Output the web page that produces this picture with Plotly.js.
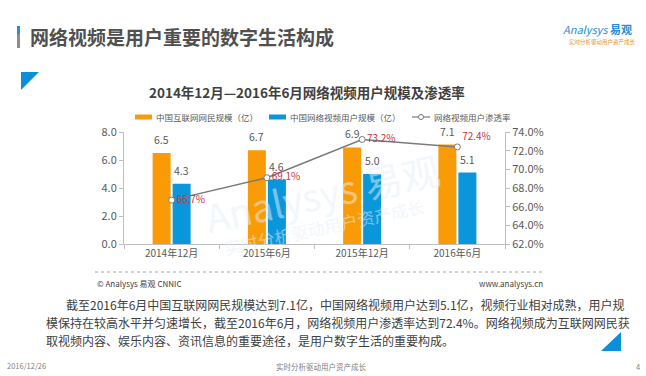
<!DOCTYPE html>
<html>
<head>
<meta charset="utf-8">
<script src="https://cdn.plot.ly/plotly-3.0.1.min.js"></script>
<style>
html,body{margin:0;padding:0;background:#fff;}
#chart{width:646px;height:376px;}
</style>
</head>
<body>
<div id="chart"></div>
<script>
// ---- data ----
const categories = ["2014年12月", "2015年6月", "2015年12月", "2016年6月"];
const internetUsers = [6.5, 6.7, 6.9, 7.1];          // 亿
const videoUsers = [4.3, 4.6, 5.0, 5.1];             // 亿
const penetration = [66.7, 69.1, 73.2, 72.4];        // %
const seriesNames = ["中国互联网网民规模（亿）", "中国网络视频用户规模（亿）", "网络视频用户渗透率"];
const leftTicks = [0, 2, 4, 6, 8];
const rightTicks = [62, 64, 66, 68, 70, 72, 74];
const pageTitle = "网络视频是用户重要的数字生活构成";
const chartTitle = "2014年12月—2016年6月网络视频用户规模及渗透率";
const sourceText = "© Analysys 易观 CNNIC";
const siteText = "www.analysys.cn";
const paragraph = [
  "截至2016年6月中国互联网网民规模达到7.1亿，中国网络视频用户达到5.1亿，视频行业相对成熟，用户规",
  "模保持在较高水平并匀速增长，截至2016年6月，网络视频用户渗透率达到72.4%。网络视频成为互联网网民获",
  "取视频内容、娱乐内容、资讯信息的重要途径，是用户数字生活的重要构成。"
];
const footerDate = "2016/12/26";
const footerSlogan = "实时分析驱动用户资产成长";
const pageNumber = "4";

// ---- layout helpers (pixel -> paper) ----
const W = 646, H = 376;
const L = 124, R = 505, T = 132, B = 244;
const px = x => (x - L) / (R - L);
const py = y => (B - y) / (B - T);

const FONT = '"Noto Sans CJK SC", "Noto Sans", sans-serif';
const gray = "#595959";
const orange = "#F99B07";
const blue = "#0A96DA";
const lineGray = "#7A7A7A";

const traces = [
  {
    type: "bar", name: seriesNames[0], x: categories, y: internetUsers,
    marker: {color: orange}, hoverinfo: "none"
  },
  {
    type: "bar", name: seriesNames[1], x: categories, y: videoUsers,
    marker: {color: blue}, hoverinfo: "none"
  },
  {
    type: "scatter", mode: "lines+markers+text", name: seriesNames[2],
    x: categories, y: penetration, yaxis: "y2",
    line: {color: lineGray, width: 1.5},
    marker: {color: "#FFFFFF", size: 6, line: {color: lineGray, width: 1}},
    text: penetration.map(v => v.toFixed(1) + "%"),
    textposition: ["middle right", "middle right", "middle right", "top right"],
    textfont: {color: "#C8323C", size: 10, family: FONT}, cliponaxis: false,
    hoverinfo: "none"
  }
];

const ann = [];
function addText(text, x, y, opts) {
  ann.push(Object.assign({
    text: text, xref: "paper", yref: "paper", x: px(x), y: py(y),
    showarrow: false, xanchor: "left", yanchor: "middle",
    font: {family: FONT, size: 12, color: gray}
  }, opts || {}));
}

// bar value labels, placed on the data scale above each bar
const barHalfOffset = 10;  // px: each bar's centre sits this far from the category centre
[[internetUsers, -barHalfOffset], [videoUsers, barHalfOffset]].forEach(([vals, dx]) => {
  vals.forEach((v, i) => {
    ann.push({text: v.toFixed(1), xref: "x", yref: "y", x: categories[i], y: v,
      xshift: dx, yshift: 5, yanchor: "bottom", xanchor: "center", showarrow: false,
      borderpad: 0, font: {family: FONT, size: 10.5, color: gray}});
  });
});

// faint watermark
addText("Analysys 易观", 322, 192, {xanchor: "center", textangle: -12,
  font: {family: FONT, size: 38, color: "#E6F0F8"}, opacity: 0.5});
addText(footerSlogan, 324, 226, {xanchor: "center", textangle: -12,
  font: {family: FONT, size: 17, color: "#E6F0F8"}, opacity: 0.5});

addText(pageTitle, 28, 37, {font: {family: FONT, size: 19, color: "#505050", weight: "bold"}});
addText("<i>Analysys</i> <b>易观</b>", 634, 29, {xanchor: "right", font: {family: FONT, size: 11, color: "#1F8FD0"}});
addText(footerSlogan, 638, 42, {xanchor: "right", font: {family: FONT, size: 5.5, color: "#E8912A"}});
addText(chartTitle, 307, 92, {xanchor: "center", font: {family: FONT, size: 13.5, color: "#404040", weight: "bold"}});

// custom single-row legend
const legendItems = [
  {x: 135, kind: "bar", color: orange, name: seriesNames[0]},
  {x: 269, kind: "bar", color: blue, name: seriesNames[1]},
  {x: 412, kind: "line", color: lineGray, name: seriesNames[2]}
];
const legendY = 117;

addText(sourceText, 95, 283, {font: {family: FONT, size: 8, color: "#404040"}});
addText(siteText, 545, 283, {xanchor: "right", font: {family: FONT, size: 8, color: "#404040"}});
addText(paragraph[0], 64, 304, {font: {family: FONT, size: 12, color: "#404040"}});
addText(paragraph[1], 44, 322, {font: {family: FONT, size: 12, color: "#404040"}});
addText(paragraph[2], 44, 340, {font: {family: FONT, size: 12, color: "#404040"}});
addText(footerDate, 5, 365, {font: {family: FONT, size: 7.5, color: "#7F7F7F"}});
addText(footerSlogan, 321, 366, {xanchor: "center", font: {family: FONT, size: 7.5, color: "#7F7F7F"}});
addText(pageNumber, 642, 366, {xanchor: "right", font: {family: FONT, size: 7.5, color: "#7F7F7F"}});

const shapes = [
  {type: "rect", xref: "paper", yref: "paper", x0: px(17), x1: px(20), y0: py(26), y1: py(34), fillcolor: "#2A8FD0", line: {width: 0}},
  {type: "rect", xref: "paper", yref: "paper", x0: px(17), x1: px(20), y0: py(34), y1: py(48), fillcolor: "#8C8C8C", line: {width: 0}},
  {type: "path", xref: "paper", yref: "paper",
   path: `M ${px(21)} ${py(72)} L ${px(39)} ${py(72)} L ${px(21)} ${py(90)} Z`,
   fillcolor: "#0A8FD8", line: {width: 0}},
  {type: "path", xref: "paper", yref: "paper",
   path: `M ${px(601)} ${py(351)} L ${px(621)} ${py(351)} L ${px(621)} ${py(332)} Z`,
   fillcolor: "#0A8FD8", line: {width: 0}},
  {type: "line", xref: "paper", yref: "paper", x0: px(95), x1: px(545), y0: py(272), y1: py(272),
   line: {color: "#A6A6A6", width: 1, dash: "dot"}}
];

legendItems.forEach(it => {
  if (it.kind === "bar") {
    shapes.push({type: "rect", xref: "paper", yref: "paper",
      x0: px(it.x), x1: px(it.x + 17), y0: py(legendY - 2.5), y1: py(legendY + 2.5),
      fillcolor: it.color, line: {width: 0}});
    addText(it.name, it.x + 19, legendY, {font: {family: FONT, size: 8.5, color: gray}});
  } else {
    shapes.push({type: "line", xref: "paper", yref: "paper",
      x0: px(it.x), x1: px(it.x + 18), y0: py(legendY), y1: py(legendY),
      line: {color: it.color, width: 1.2}});
    shapes.push({type: "circle", xref: "paper", yref: "paper",
      x0: px(it.x + 6.5), x1: px(it.x + 11.5), y0: py(legendY - 2.5), y1: py(legendY + 2.5),
      fillcolor: "#FFFFFF", line: {color: it.color, width: 1}});
    addText(it.name, it.x + 20, legendY, {font: {family: FONT, size: 8.5, color: gray}});
  }
});

const layout = {
  width: W, height: H,
  margin: {l: L, r: W - R, t: T, b: H - B, pad: 0},
  paper_bgcolor: "#FFFFFF", plot_bgcolor: "rgba(0,0,0,0)",
  font: {family: FONT, color: gray},
  barmode: "group", bargap: 0.58, bargroupgap: 0.1,
  showlegend: false,
  xaxis: {
    type: "category", showgrid: false, showline: true, linecolor: "#BFBFBF", linewidth: 1,
    ticks: "outside", tickson: "boundaries", ticklen: 4, tickcolor: "#BFBFBF",
    tickfont: {size: 10, color: gray, family: FONT}, zeroline: false, fixedrange: true
  },
  yaxis: {
    range: [0, 8], tickvals: leftTicks, ticktext: leftTicks.map(v => v.toFixed(1)),
    showgrid: false, showline: true, linecolor: "#BFBFBF", ticks: "outside", ticklen: 4,
    tickcolor: "#BFBFBF", tickfont: {size: 11, color: gray, family: FONT}, zeroline: false
  },
  yaxis2: {
    overlaying: "y", side: "right", range: [62, 74], tickvals: rightTicks,
    ticktext: rightTicks.map(v => v.toFixed(1) + "%"),
    showgrid: false, showline: true, linecolor: "#BFBFBF", ticks: "outside", ticklen: 4,
    tickcolor: "#BFBFBF", tickfont: {size: 11, color: gray, family: FONT}, zeroline: false
  },
  annotations: ann,
  shapes: shapes
};

Plotly.newPlot("chart", traces, layout, {displayModeBar: false, staticPlot: true});
</script>
</body>
</html>
